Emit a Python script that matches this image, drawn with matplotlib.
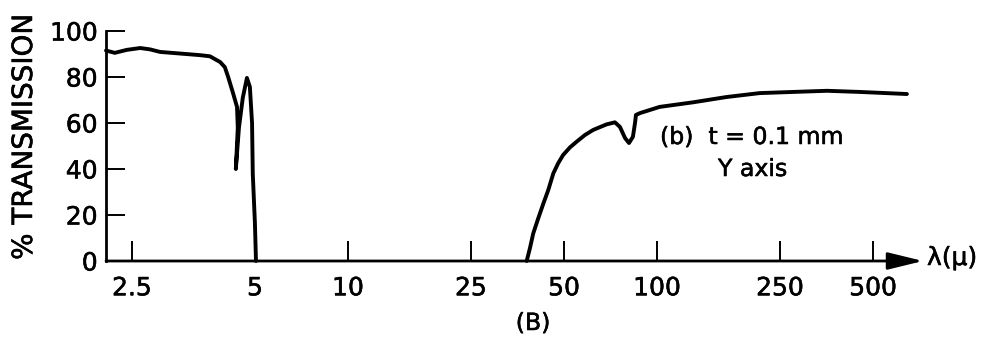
import numpy as np
import matplotlib
matplotlib.use("Agg")
import matplotlib.pyplot as plt
import matplotlib.patheffects as pe
from matplotlib.ticker import FixedLocator, NullLocator

# near-IR branch (prism region), wavelength in microns
wl_short = [2.16, 2.27, 2.43, 2.62, 2.77, 2.93, 3.28, 3.67, 3.88, 4.11, 4.22,
            4.30, 4.42, 4.52, 4.54, 4.49, 4.57, 4.67, 4.78, 4.86, 4.92, 4.94,
            5.00, 5.04]
tr_short = [91.5, 90.5, 91.8, 92.6, 92.0, 90.9, 90.2, 89.5, 89.0, 86.5, 84.3,
            80.0, 73.0, 67.0, 58.0, 40.0, 58.0, 71.0, 79.6, 75.7, 60.0, 38.0,
            16.5, 0.0]

# far-IR branch
wl_long = [37.88, 38.8, 39.78, 41.3, 42.9, 44.5, 46.2, 47.9, 49.7, 52.3, 55.0,
           58.5, 62.2, 68.7, 73.1, 75.9, 78.8, 81.2, 83.6, 85.0, 85.5, 88.1,
           102, 131, 168, 215, 275, 355, 454, 644]
tr_long = [0.0, 5.5, 12.0, 18.6, 25.0, 30.9, 38.1, 42.5, 46.1, 49.4, 51.9,
           54.8, 57.0, 59.4, 60.3, 58.3, 53.5, 51.3, 54.0, 60.4, 63.5, 64.3,
           67.0, 69.0, 71.3, 73.0, 73.5, 74.0, 73.5, 72.6]

x_ticks = [2.5, 5, 10, 25, 50, 100, 250, 500]
x_labels = ["2.5", "5", "10", "25", "50", "100", "250", "500"]
y_ticks = [0, 20, 40, 60, 80, 100]

# log axis, stretched below 5 microns (scale change of the spectrometer)
L5 = np.log10(5.0)
K = 1.322


def fwd(x):
    lx = np.log10(np.clip(np.asarray(x, float), 1e-3, None))
    return np.where(lx < L5, L5 - (L5 - lx) * K, lx)


def inv(u):
    u = np.asarray(u, float)
    return np.where(u < L5, 10 ** (L5 - (L5 - u) / K), 10 ** u)


plt.rcParams["font.family"] = "DejaVu Sans"
heavy = [pe.withStroke(linewidth=0.4, foreground="black")]

fig = plt.figure(figsize=(9.9, 3.41), dpi=100)
ax = fig.add_axes([106 / 990, 80 / 341, 817 / 990, 230 / 341])

ax.set_xscale("function", functions=(fwd, inv))
ax.set_xlim(2.16, 726)
ax.set_ylim(0, 100)

ax.plot(wl_short, tr_short, color="black", lw=2.8, solid_joinstyle="round",
        solid_capstyle="round", clip_on=False)
ax.plot(wl_long, tr_long, color="black", lw=2.8, solid_joinstyle="round",
        solid_capstyle="round", clip_on=False)

for s in ["top", "right", "bottom"]:
    ax.spines[s].set_visible(False)
ax.spines["left"].set_linewidth(2.0)

ax.xaxis.set_major_locator(FixedLocator(x_ticks))
ax.xaxis.set_minor_locator(NullLocator())
ax.set_xticklabels(x_labels)
ax.set_yticks(y_ticks)
ax.tick_params(axis="x", direction="in", length=14.5, width=1.4, pad=11,
               labelsize=18)
ax.tick_params(axis="y", direction="in", length=14, width=1.4, pad=6,
               labelsize=18)
for lab in ax.get_xticklabels() + ax.get_yticklabels():
    lab.set_path_effects(heavy)

# x axis drawn as an arrow
ax.annotate("", xy=(1, 0), xytext=(0, 0), xycoords="axes fraction",
            textcoords="axes fraction", annotation_clip=False,
            arrowprops=dict(arrowstyle="-|>,head_length=0.9,head_width=0.22",
                            mutation_scale=24, lw=2.0, color="black",
                            shrinkA=0, shrinkB=0))

txt = dict(path_effects=heavy)
fig.text(24 / 990, 1 - 137 / 341, "% TRANSMISSION", rotation=90,
         ha="center", va="center", fontsize=20, **txt)
fig.text(927 / 990, 1 - 258 / 341, "λ(μ)", ha="left", va="center",
         fontsize=18, **txt)
fig.text(533 / 990, 1 - 323 / 341, "(B)", ha="center", va="center",
         fontsize=17, **txt)
fig.text(660 / 990, 1 - 137 / 341, "(b)  t = 0.1 mm", ha="left",
         va="center", fontsize=17, **txt)
fig.text(718 / 990, 1 - 169 / 341, "Y axis", ha="left", va="center",
         fontsize=17, **txt)

fig.savefig("out.png", dpi=100)
